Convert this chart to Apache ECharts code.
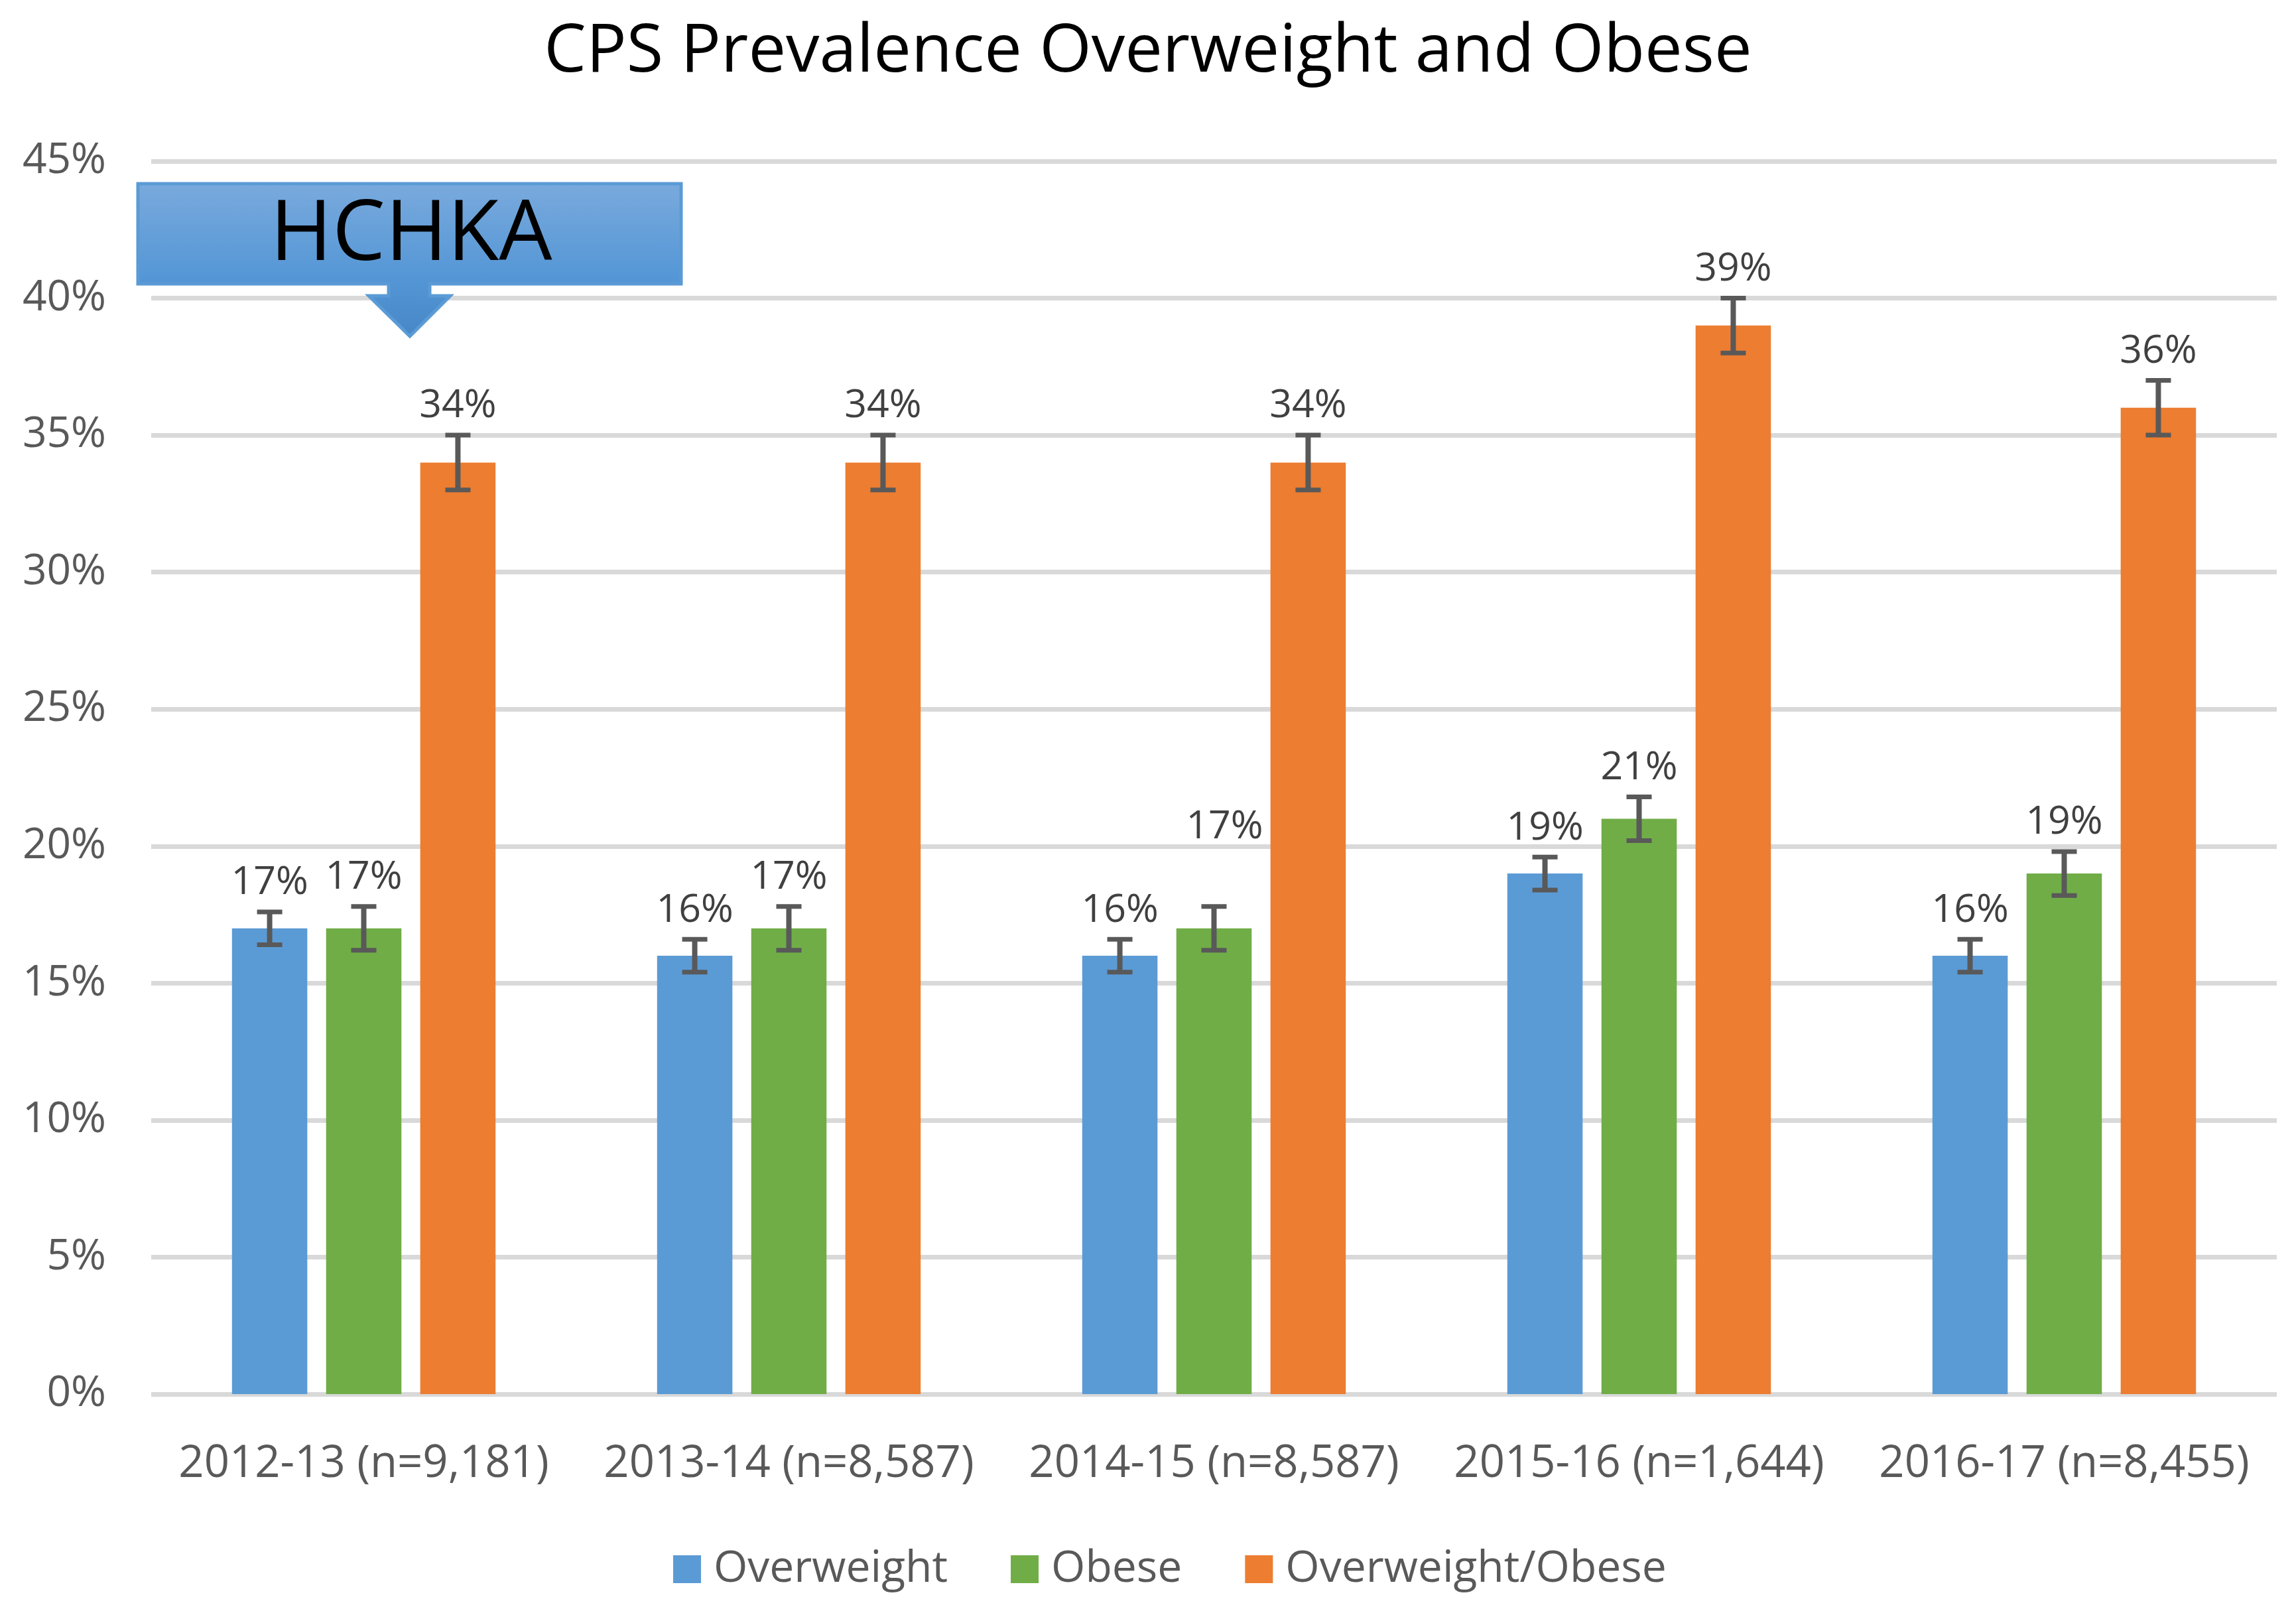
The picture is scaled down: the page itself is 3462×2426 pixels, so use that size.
<!DOCTYPE html>
<html>
<head>
<meta charset="utf-8">
<script src="https://cdn.jsdelivr.net/npm/echarts@6/dist/echarts.min.js"></script>
<style>html,body{margin:0;padding:0;background:#fff;}#c{width:3462px;height:2426px;}</style>
</head>
<body>
<div id="c"></div>
<script>
// ---- data ----
const categories = ['2012-13 (n=9,181)', '2013-14 (n=8,587)', '2014-15 (n=8,587)', '2015-16 (n=1,644)', '2016-17 (n=8,455)'];
const seriesNames = ['Overweight', 'Obese', 'Overweight/Obese'];
const overweight = [17, 16, 16, 19, 16];
const obese = [17, 17, 17, 21, 19];
const overweightObese = [34, 34, 34, 39, 36];
const overweightErr = [0.6, 0.6, 0.6, 0.6, 0.6];
const obeseErr = [0.8, 0.8, 0.8, 0.8, 0.8];
const overweightObeseErr = [1.0, 1.0, 1.0, 1.0, 1.0];
const yMin = 0, yMax = 45, yInterval = 5;
const calloutText = 'HCHKA';

// ---- styling ----
const colors = ['#5B9BD5', '#70AD47', '#ED7D31'];
const FONT = '"Open Sans", "Noto Sans", sans-serif';
const CAT_GAP = 0.38, BAR_GAP = 0.25;
// manual label nudges (series index -> category index -> [dx, dy])
const labelNudge = { 1: { 2: [16, -76] } };

const values = [overweight, obese, overweightObese];
const errs = [overweightErr, obeseErr, overweightObeseErr];

const chart = echarts.init(document.getElementById('c'), null, { renderer: 'canvas', width: 3462, height: 2426, devicePixelRatio: 1 });

function makeErrSeries(k) {
  return {
    type: 'custom',
    name: seriesNames[k] + ' err',
    z: 5,
    silent: true,
    data: values[k].map((v, i) => [i, v, errs[k][i]]),
    renderItem: function (params, api) {
      const i = api.value(0), v = api.value(1), e = api.value(2);
      const band = api.size([1, 0])[0];
      const n = values.length;
      const bw = band * (1 - CAT_GAP) / (n + (n - 1) * BAR_GAP);
      const step = bw * (1 + BAR_GAP);
      const cx = api.coord([i, v])[0] + (k - (n - 1) / 2) * step;
      const yTop = api.coord([i, v + e])[1];
      const yBot = api.coord([i, v - e])[1];
      const capW = 38;
      const ls = { stroke: '#595959', lineWidth: 8 };
      const cs = { stroke: '#595959', lineWidth: 7 };
      const nud = (labelNudge[k] && labelNudge[k][i]) || [0, 0];
      return {
        type: 'group',
        children: [
          { type: 'line', shape: { x1: cx, y1: yTop, x2: cx, y2: yBot }, style: ls },
          { type: 'line', shape: { x1: cx - capW / 2, y1: yTop, x2: cx + capW / 2, y2: yTop }, style: cs },
          { type: 'line', shape: { x1: cx - capW / 2, y1: yBot, x2: cx + capW / 2, y2: yBot }, style: cs },
          { type: 'text', style: { text: Math.round(v) + '%', x: cx + nud[0], y: yTop - 14 + nud[1], align: 'center', verticalAlign: 'bottom', fill: '#404040', fontSize: 59, fontFamily: FONT } }
        ]
      };
    }
  };
}

const barSeries = values.map((vals, k) => ({
  type: 'bar',
  name: seriesNames[k],
  data: vals,
  barGap: (BAR_GAP * 100) + '%',
  barCategoryGap: (CAT_GAP * 100) + '%',
  itemStyle: { color: colors[k] },
  z: 2
}));

const option = {
  animation: false,
  backgroundColor: '#ffffff',
  title: {
    text: 'CPS Prevalence Overweight and Obese',
    left: 'center',
    top: 24,
    textStyle: { fontFamily: FONT, fontSize: 101, fontWeight: 'normal', color: '#000000' }
  },
  legend: {
    data: seriesNames,
    left: 1010,
    top: 2328,
    icon: 'rect',
    itemWidth: 42,
    itemHeight: 42,
    itemGap: 95,
    textStyle: { fontFamily: FONT, fontSize: 66, color: '#595959', padding: [0, 0, 0, 14] }
  },
  grid: { left: 228, right: 29, top: 243, bottom: 324, containLabel: false },
  xAxis: {
    type: 'category',
    data: categories,
    axisLine: { show: false },
    axisTick: { show: false },
    axisLabel: { fontFamily: FONT, fontSize: 67, color: '#595959', margin: 72, interval: 0 }
  },
  yAxis: {
    type: 'value',
    min: yMin,
    max: yMax,
    interval: yInterval,
    axisLine: { show: false },
    axisTick: { show: false },
    splitLine: { show: true, lineStyle: { color: '#D9D9D9', width: 7 } },
    axisLabel: { fontFamily: FONT, fontSize: 64, color: '#595959', margin: 68, formatter: '{value}%' }
  },
  series: barSeries.concat(values.map((v, k) => makeErrSeries(k))),
  graphic: [
    {
      type: 'polygon',
      z: 100,
      shape: { points: [[208, 277], [1027, 277], [1027, 428], [648, 428], [648, 446], [679, 446], [618, 507], [556, 446], [586, 446], [586, 428], [208, 428]] },
      style: {
        fill: new echarts.graphic.LinearGradient(0, 0, 0, 1, [
          { offset: 0, color: '#7AAADD' },
          { offset: 0.6, color: '#5597D6' },
          { offset: 1, color: '#4686C6' }
        ]),
        stroke: '#5B9BD5',
        lineWidth: 5
      }
    },
    {
      type: 'text',
      z: 101,
      x: 620,
      y: 356,
      style: { text: calloutText, align: 'center', verticalAlign: 'middle', fill: '#000000', fontSize: 127, fontFamily: FONT }
    }
  ]
};
chart.setOption(option);
</script>
</body>
</html>
